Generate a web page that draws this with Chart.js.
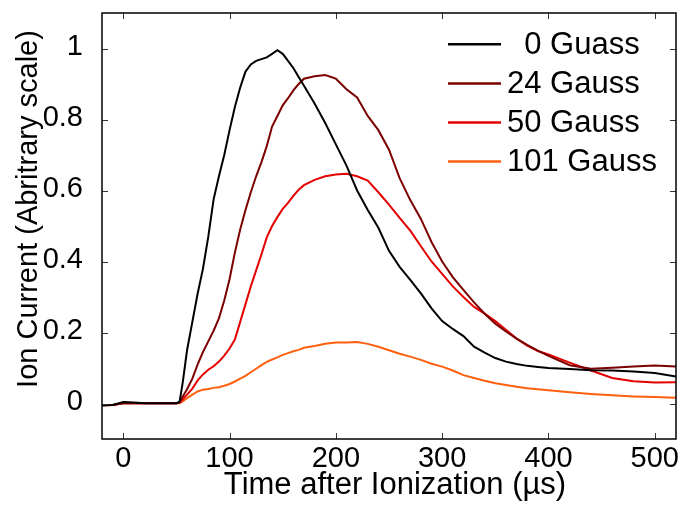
<!DOCTYPE html>
<html>
<head>
<meta charset="utf-8">
<script src="https://cdn.jsdelivr.net/npm/chart.js@4.4.0/dist/chart.umd.min.js"></script>
<style>
  body { margin: 0; background: #fff; }
  #wrap { width: 684px; height: 510px; position: relative; }
</style>
</head>
<body>
<div id="wrap"><canvas id="chart"></canvas></div>
<script>
// time after ionization (us)
const times = [-20, -10, 0, 10, 20, 30, 40, 50, 53, 56, 60, 65, 70, 75, 80, 85, 90, 95, 100, 105,
  110, 115, 120, 125, 130, 135, 140, 145, 150, 155, 160, 165, 170, 180, 190, 200, 210, 220, 230, 240,
  250, 260, 270, 280, 290, 300, 310, 320, 330, 340, 350, 360, 370, 380, 390, 400, 420, 440, 460, 480,
  500, 520];

const gauss0 = [-0.005, -0.004, 0.004, 0.003, 0.001, 0.001, 0.001, 0.001, 0.005, 0.06, 0.15, 0.23, 0.31, 0.38, 0.47, 0.575, 0.64, 0.70, 0.77, 0.835,
  0.89, 0.935, 0.955, 0.965, 0.97, 0.975, 0.985, 0.995, 0.985, 0.965, 0.945, 0.92, 0.895, 0.845, 0.79, 0.73, 0.67, 0.60, 0.545, 0.495,
  0.43, 0.385, 0.348, 0.31, 0.268, 0.232, 0.21, 0.19, 0.16, 0.143, 0.128, 0.118, 0.111, 0.106, 0.103, 0.1, 0.097, 0.094, 0.093, 0.09,
  0.086, 0.076];

const gauss24 = [-0.005, -0.004, 0.001, 0.001, 0.001, 0.001, 0.001, 0.001, 0.003, 0.02, 0.04, 0.07, 0.11, 0.145, 0.175, 0.205, 0.24, 0.29, 0.35, 0.425,
  0.49, 0.545, 0.595, 0.64, 0.68, 0.725, 0.78, 0.81, 0.84, 0.86, 0.882, 0.9, 0.915, 0.922, 0.925, 0.915, 0.885, 0.862, 0.81, 0.77,
  0.715, 0.635, 0.573, 0.52, 0.455, 0.40, 0.356, 0.32, 0.285, 0.253, 0.225, 0.203, 0.183, 0.165, 0.149, 0.134, 0.108, 0.098, 0.101, 0.104,
  0.107, 0.104];

const gauss50 = [-0.005, -0.004, 0.001, 0.001, 0.001, 0.001, 0.001, 0.001, 0.003, 0.012, 0.025, 0.042, 0.065, 0.082, 0.095, 0.105, 0.118, 0.135, 0.155, 0.18,
  0.23, 0.28, 0.33, 0.375, 0.42, 0.468, 0.5, 0.525, 0.548, 0.565, 0.585, 0.602, 0.615, 0.63, 0.64, 0.645, 0.647, 0.64, 0.628, 0.595,
  0.56, 0.523, 0.487, 0.443, 0.40, 0.365, 0.33, 0.30, 0.272, 0.253, 0.232, 0.208, 0.183, 0.163, 0.148, 0.138, 0.115, 0.093, 0.072, 0.063,
  0.059, 0.06];

const gauss101 = [-0.005, -0.004, 0.001, 0.001, 0.001, 0.001, 0.001, 0.001, 0.001, 0.006, 0.015, 0.025, 0.034, 0.039, 0.041, 0.044, 0.046, 0.05, 0.055, 0.062,
  0.07, 0.078, 0.088, 0.098, 0.108, 0.117, 0.124, 0.13, 0.137, 0.142, 0.147, 0.151, 0.157, 0.162, 0.168, 0.172, 0.172, 0.173, 0.168, 0.16,
  0.15, 0.14, 0.132, 0.123, 0.112, 0.104, 0.093, 0.08, 0.072, 0.064, 0.057, 0.052, 0.047, 0.043, 0.04, 0.037, 0.032, 0.027, 0.023, 0.02,
  0.018, 0.016];

const seriesNames = ["  0 Guass", "24 Gauss", "50 Gauss", "101 Gauss"];
const seriesColors = ["#000000", "#7c0000", "#e40000", "#ff6010"];
const xTicks = [0, 100, 200, 300, 400, 500];
const yTicks = [0, 0.2, 0.4, 0.6, 0.8, 1];
const xTitle = "Time after Ionization (\u00b5s)";
const yTitle = "Ion Current (Abritrary scale)";

const FONT = "'Liberation Sans', Arial, Helvetica, sans-serif";
const allSeries = [gauss0, gauss24, gauss50, gauss101];

const datasets = allSeries.map((vals, i) => ({
  label: seriesNames[i],
  data: vals.map((v, j) => ({ x: times[j], y: v })),
  borderColor: seriesColors[i],
  borderWidth: 2,
  pointRadius: 0,
  tension: 0,
  fill: false,
}));

// box frame with inward ticks on all four sides
const frameTicks = {
  id: "frameTicks",
  afterDraw(chart) {
    const { ctx, chartArea: a, scales } = chart;
    ctx.save();
    ctx.strokeStyle = "#333";
    ctx.lineWidth = 1;
    ctx.beginPath();
    scales.x.ticks.forEach((t) => {
      const px = Math.round(scales.x.getPixelForValue(t.value)) + 0.5;
      ctx.moveTo(px, a.bottom); ctx.lineTo(px, a.bottom - 6);
      ctx.moveTo(px, a.top); ctx.lineTo(px, a.top + 6);
    });
    scales.y.ticks.forEach((t) => {
      const py = Math.round(scales.y.getPixelForValue(t.value)) + 0.5;
      ctx.moveTo(a.left, py); ctx.lineTo(a.left + 6, py);
      ctx.moveTo(a.right, py); ctx.lineTo(a.right - 6, py);
    });
    ctx.stroke();
    ctx.strokeStyle = "#000";
    ctx.lineWidth = 1.5;
    ctx.strokeRect(a.left, a.top, a.right - a.left, a.bottom - a.top);
    ctx.restore();
  },
};

// axis titles, placed where the original figure has them
const axisTitles = {
  id: "axisTitles",
  afterDraw(chart) {
    const { ctx } = chart;
    ctx.save();
    ctx.fillStyle = "#000";
    ctx.textAlign = "center";
    ctx.textBaseline = "middle";
    ctx.font = "31px " + FONT;
    ctx.fillText(xTitle, 395, 485);
    ctx.translate(28.5, 209);
    ctx.rotate(-Math.PI / 2);
    ctx.font = "29px " + FONT;
    ctx.fillText(yTitle, 0, 0);
    ctx.restore();
  },
};

// legend drawn inside the plot, top right, no box
const insideLegend = {
  id: "insideLegend",
  afterDraw(chart) {
    const { ctx } = chart;
    ctx.save();
    ctx.font = "31px " + FONT;
    ctx.textBaseline = "middle";
    ctx.textAlign = "left";
    chart.data.datasets.forEach((ds, i) => {
      const y = 44.3 + i * 39.1;
      ctx.strokeStyle = ds.borderColor;
      ctx.lineWidth = 2.5;
      ctx.beginPath();
      ctx.moveTo(448, y);
      ctx.lineTo(501, y);
      ctx.stroke();
      ctx.fillStyle = "#000";
      ctx.fillText(ds.label, 507, y + 1);
    });
    ctx.restore();
  },
};

new Chart(document.getElementById("chart"), {
  type: "line",
  data: { datasets },
  plugins: [frameTicks, axisTitles, insideLegend],
  options: {
    responsive: true,
    maintainAspectRatio: false,
    animation: false,
    layout: { padding: { top: 13, right: 8, left: 0, bottom: 0 } },
    plugins: { legend: { display: false }, tooltip: { enabled: false } },
    scales: {
      x: {
        type: "linear",
        min: -20,
        max: 520,
        afterBuildTicks: (s) => { s.ticks = xTicks.map((v) => ({ value: v })); },
        afterFit: (s) => { s.height = 71; s.paddingLeft = 0; s.paddingRight = 0; },
        grid: { display: false },
        border: { display: false },
        ticks: { color: "#000", padding: -5, maxRotation: 0, font: { family: FONT, size: 29 } },
      },
      y: {
        type: "linear",
        min: -0.1,
        max: 1.1,
        afterBuildTicks: (s) => { s.ticks = yTicks.map((v) => ({ value: v })); },
        afterFit: (s) => { s.width = 102; s.paddingTop = 0; s.paddingBottom = 0; },
        grid: { display: false },
        border: { display: false },
        ticks: {
          color: "#000",
          padding: 11,
          labelOffset: -2,
          font: { family: FONT, size: 29 },
          callback: (v) => String(Math.round(v * 10) / 10),
        },
      },
    },
  },
});
</script>
</body>
</html>
